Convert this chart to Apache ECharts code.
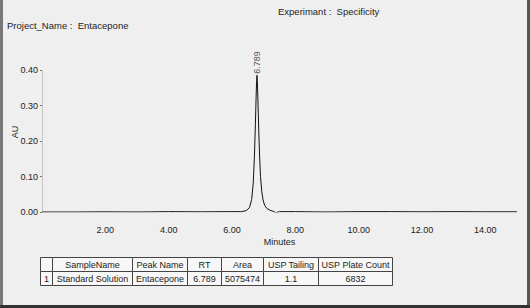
<!DOCTYPE html>
<html>
<head>
<meta charset="utf-8">
<script src="https://cdn.jsdelivr.net/npm/echarts@6/dist/echarts.min.js"></script>
<style>
html,body{margin:0;padding:0;background:#efefef;}
#c{width:530px;height:308px;}
</style>
</head>
<body>
<div id="c"></div>
<script>
// Chromatogram data (minutes, AU)
var times = [0, 1, 2, 3, 4, 5, 6, 6.3, 6.45, 6.55, 6.62, 6.67, 6.71, 6.74, 6.76, 6.775, 6.789, 6.80, 6.82, 6.845, 6.87, 6.90, 6.94, 6.98, 7.03, 7.10, 7.20, 7.30, 7.38, 7.50, 8, 9, 10, 11, 12, 13, 14, 15];
var au = [0, 0, 0.0005, 0, 0.001, 0.0005, 0.001, 0.001, 0.004, 0.012, 0.035, 0.08, 0.16, 0.25, 0.32, 0.365, 0.385, 0.37, 0.31, 0.23, 0.16, 0.10, 0.058, 0.034, 0.019, 0.010, 0.005, 0.002, -0.002, 0.001, 0.001, 0, 0.001, 0.001, 0.0005, 0.001, 0.0005, 0.0005];
var peakRT = 6.789;
var peakAU = 0.385;
var peakLabel = "6.789";
var xTickLabels = ["2.00", "4.00", "6.00", "8.00", "10.00", "12.00", "14.00"];
var yTickLabels = ["0.00", "0.10", "0.20", "0.30", "0.40"];

// Results table
var tableHeader = ["", "SampleName", "Peak Name", "RT", "Area", "USP Tailing", "USP Plate Count"];
var tableRow = ["1", "Standard Solution", "Entacepone", "6.789", "5075474", "1.1", "6832"];

var experimentText = "Experimant :  Specificity";
var projectText = "Project_Name :  Entacepone";

var seriesData = times.map(function (t, i) { return [t, au[i]]; });

// table layout
var colX = [40, 52, 132, 187, 221, 263, 318, 392];
var rowY = [257, 271, 285];
var tableGraphics = [];
[tableHeader, tableRow].forEach(function (row, r) {
  row.forEach(function (txt, c) {
    tableGraphics.push({
      type: 'rect',
      shape: { x: colX[c] + 0.5, y: rowY[r] + 0.5, width: colX[c + 1] - colX[c], height: rowY[r + 1] - rowY[r] },
      style: { fill: '#f7f7f7', stroke: '#444', lineWidth: 1 },
      silent: true
    });
    tableGraphics.push({
      type: 'text',
      x: (colX[c] + colX[c + 1]) / 2 + 0.5,
      y: (rowY[r] + rowY[r + 1]) / 2 + 1,
      style: { text: txt, align: 'center', verticalAlign: 'middle', fontSize: 9, fill: '#222', fontFamily: 'Liberation Sans' },
      silent: true
    });
  });
});

var chart = echarts.init(document.getElementById('c'), null, { renderer: 'svg' });
chart.setOption({
  backgroundColor: '#efefef',
  animation: false,
  title: [
    { text: experimentText, left: 278, top: 6, padding: 0, textStyle: { fontSize: 9.5, fontWeight: 'normal', color: '#222', fontFamily: 'Liberation Sans' } },
    { text: projectText, left: 7, top: 20, padding: 0, textStyle: { fontSize: 9.5, fontWeight: 'normal', color: '#222', fontFamily: 'Liberation Sans' } }
  ],
  grid: { left: 42, right: 13, top: 70, bottom: 96 },
  xAxis: {
    type: 'value', min: 0, max: 15, interval: 2,
    name: 'Minutes', nameLocation: 'middle', nameGap: 25,
    nameTextStyle: { fontSize: 9, color: '#222', fontFamily: 'Liberation Sans' },
    axisLine: { show: false }, axisTick: { show: false }, splitLine: { show: false },
    axisLabel: {
      fontSize: 9, color: '#222', margin: 13, fontFamily: 'Liberation Sans',
      formatter: function (v) { var s = v.toFixed(2); return (v > 0 && xTickLabels.indexOf(s) >= 0) ? s : ''; }
    }
  },
  yAxis: {
    type: 'value', min: 0, max: 0.4, interval: 0.1,
    axisLine: { show: true, lineStyle: { color: '#bbb', type: 'dotted', width: 1 } },
    axisTick: { show: true, length: 2, lineStyle: { color: '#777' } },
    splitLine: { show: false },
    axisLabel: {
      fontSize: 9, color: '#222', margin: 4, fontFamily: 'Liberation Sans',
      formatter: function (v) { var s = v.toFixed(2); return yTickLabels.indexOf(s) >= 0 ? s : ''; }
    }
  },
  graphic: [
    { type: 'text', x: 15, y: 132, rotation: Math.PI / 2, style: { text: 'AU', align: 'center', verticalAlign: 'middle', fontSize: 9, fill: '#222', fontFamily: 'Liberation Sans' } },
    { type: 'rect', shape: { x: 0, y: 0, width: 3, height: 308 }, style: { fill: '#777' } },
    { type: 'rect', shape: { x: 527, y: 0, width: 3, height: 308 }, style: { fill: '#555' } },
    { type: 'rect', shape: { x: 0, y: 305, width: 530, height: 3 }, style: { fill: '#333' } }
  ].concat(tableGraphics),
  series: [{
    type: 'line', data: seriesData, showSymbol: false, symbol: 'none',
    lineStyle: { color: '#111', width: 1 }, z: 3
  }, {
    type: 'scatter', data: [[peakRT, peakAU]], symbolSize: 1,
    itemStyle: { color: 'rgba(0,0,0,0)' }, z: 4,
    label: {
      show: true, formatter: peakLabel, position: 'top', rotate: 90,
      align: 'left', verticalAlign: 'middle', distance: 1,
      fontSize: 9, color: '#222', fontFamily: 'Liberation Sans'
    }
  }]
});
</script>
</body>
</html>
